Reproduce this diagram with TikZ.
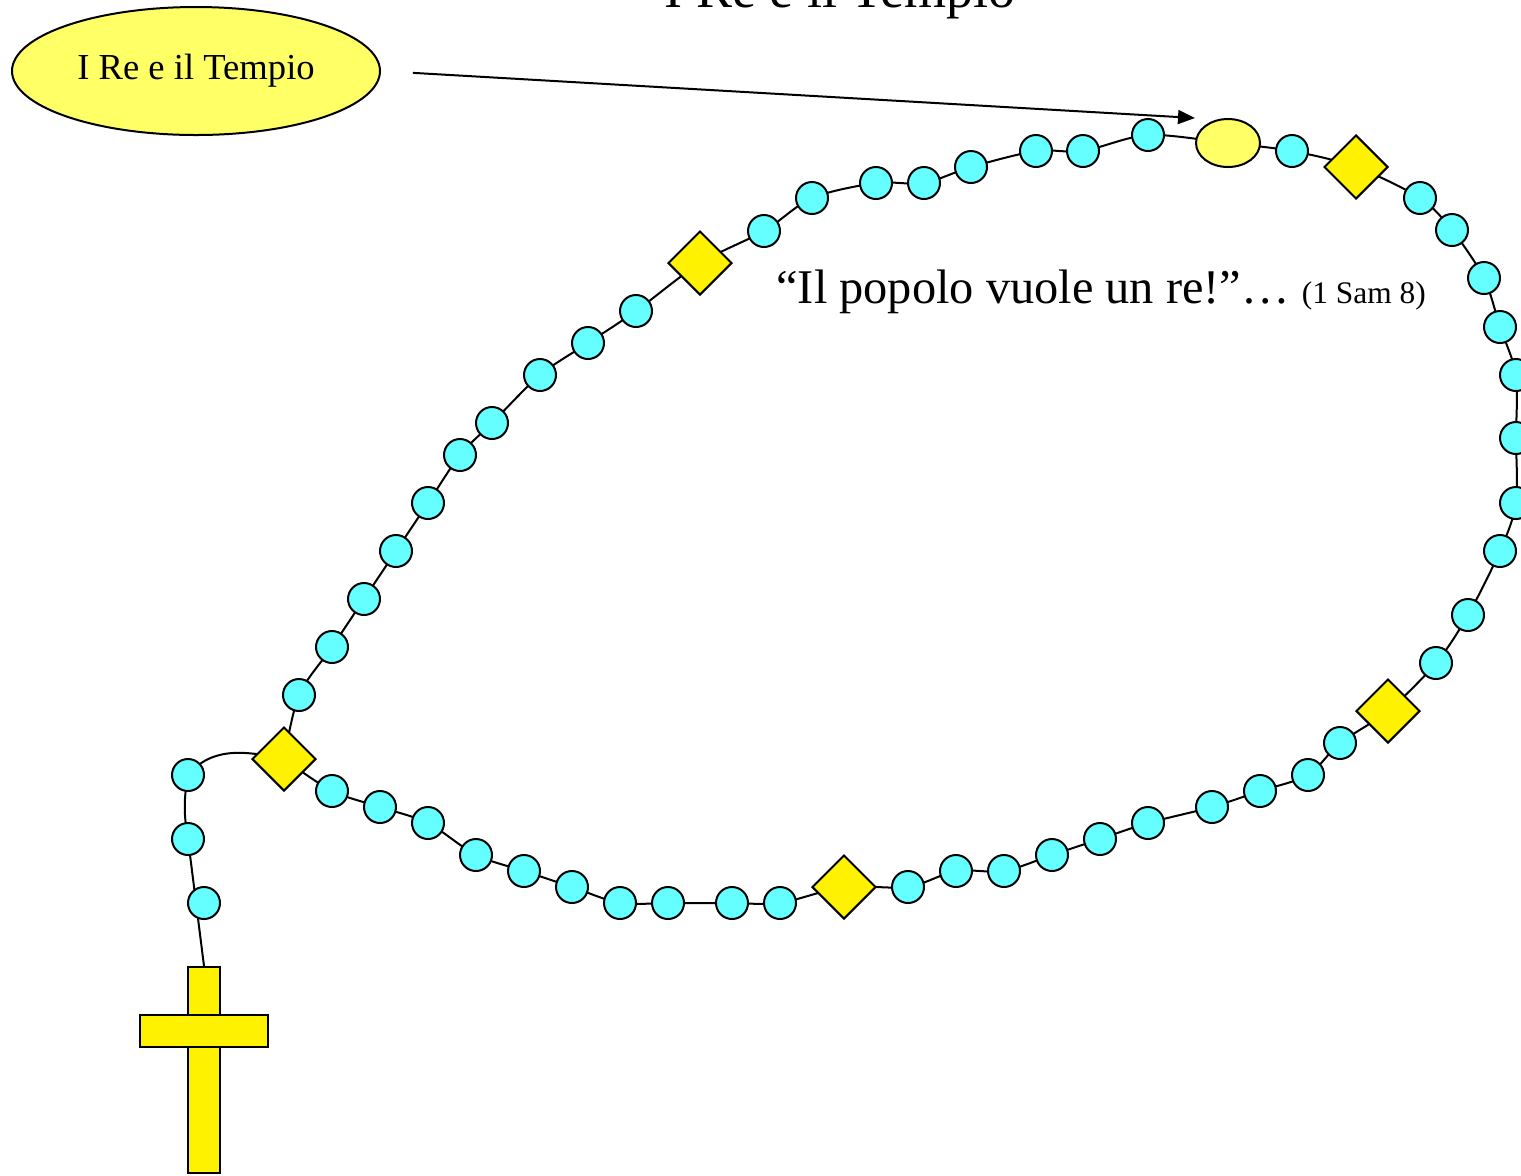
\documentclass[tikz,border=0pt]{standalone}
\usepackage{fontspec}
\setmainfont{Liberation Serif}
\usepackage{tikz}
\usetikzlibrary{shapes.geometric,arrows.meta,backgrounds}
\definecolor{beadcyan}{HTML}{66FFFF}
\definecolor{paleyellow}{HTML}{FFFF66}

\begin{document}
\begin{tikzpicture}[x=0.5pt,y=-0.5pt,
        bead/.style={circle,draw=black,line width=1pt,fill=beadcyan,minimum size=16pt,inner sep=0pt},
        gem/.style={diamond,draw=black,line width=1pt,fill=yellow,minimum size=32pt,inner sep=0pt},
        bigbead/.style={ellipse,draw=black,line width=1pt,fill=paleyellow,minimum width=32pt,minimum height=24pt,inner sep=0pt},
        bar/.style={rectangle,draw=black,line width=1pt,fill=yellow,inner sep=0pt},
        chain/.style={black,line width=1pt},
        pointer/.style={black,line width=1pt,-{Triangle[length=8.5pt,width=7pt]}}]
        \useasboundingbox (0,0) rectangle (1521,1175);
        % titolo e testi
        \node[anchor=base] (title) at (840,7) {\fontsize{27}{32}\selectfont I Re e il Tempio};
        \node[ellipse,draw=black,line width=1pt,fill=paleyellow,minimum width=184pt,minimum height=64pt,inner sep=0pt] (label) at (196,71) {\fontsize{18.3}{22}\selectfont I Re e il Tempio};
        \node[anchor=base west,inner sep=0pt] (quote) at (776,303) {\fontsize{24.2}{29}\selectfont “Il popolo vuole un re!”… {\fontsize{15.7}{19}\selectfont (1 Sam 8)}};
        \coordinate (tip) at (1195,118);
        \draw[pointer,shorten <=16pt] (label.east) -- (tip);
        % croce
        \node[bar,minimum width=16pt,minimum height=103pt] (crossv) at (204,1070) {};
        \node[bar,minimum width=64pt,minimum height=16pt] (crossh) at (204,1031) {};
        % corona
        \node[gem] (d1) at (284,759) {};
        \node[bead] (b1) at (299,695) {};
        \node[bead] (b2) at (332,647) {};
        \node[bead] (b3) at (364,599) {};
        \node[bead] (b4) at (396,551) {};
        \node[bead] (b5) at (428,503) {};
        \node[bead] (b6) at (460,455) {};
        \node[bead] (b7) at (492,423) {};
        \node[bead] (b8) at (540,375) {};
        \node[bead] (b9) at (588,343) {};
        \node[bead] (b10) at (636,311) {};
        \node[gem] (d2) at (700,263) {};
        \node[bead] (b11) at (764,231) {};
        \node[bead] (b12) at (812,198) {};
        \node[bead] (b13) at (876,183) {};
        \node[bead] (b14) at (924,183) {};
        \node[bead] (b15) at (971,167) {};
        \node[bead] (b16) at (1036,151) {};
        \node[bead] (b17) at (1083,151) {};
        \node[bead] (b18) at (1148,135) {};
        \node[bigbead] (big) at (1228,143) {};
        \node[bead] (b19) at (1292,151) {};
        \node[gem] (d3) at (1356,167) {};
        \node[bead] (b20) at (1420,198) {};
        \node[bead] (b21) at (1452,230) {};
        \node[bead] (b22) at (1484,278) {};
        \node[bead] (b23) at (1500,327) {};
        \node[bead] (b24) at (1516,375) {};
        \node[bead] (b25) at (1516,438) {};
        \node[bead] (b26) at (1516,503) {};
        \node[bead] (b27) at (1500,551) {};
        \node[bead] (b28) at (1468,615) {};
        \node[bead] (b29) at (1436,663) {};
        \node[gem] (d4) at (1388,711) {};
        \node[bead] (b30) at (1340,743) {};
        \node[bead] (b31) at (1308,775) {};
        \node[bead] (b32) at (1260,791) {};
        \node[bead] (b33) at (1212,807) {};
        \node[bead] (b34) at (1148,823) {};
        \node[bead] (b35) at (1100,839) {};
        \node[bead] (b36) at (1052,855) {};
        \node[bead] (b37) at (1004,871) {};
        \node[bead] (b38) at (956,871) {};
        \node[bead] (b39) at (908,887) {};
        \node[gem] (d5) at (844,887) {};
        \node[bead] (b40) at (780,903) {};
        \node[bead] (b41) at (732,903) {};
        \node[bead] (b42) at (668,903) {};
        \node[bead] (b43) at (620,903) {};
        \node[bead] (b44) at (572,887) {};
        \node[bead] (b45) at (524,871) {};
        \node[bead] (b46) at (476,855) {};
        \node[bead] (b47) at (428,823) {};
        \node[bead] (b48) at (380,807) {};
        \node[bead] (b49) at (332,791) {};
        \node[bead] (t1) at (188,775) {};
        \node[bead] (t2) at (188,839) {};
        \node[bead] (t3) at (204,903) {};
        % filo
        \begin{scope}[on background layer]
        \draw[chain] plot[smooth] coordinates {(d1.center) (b1.center) (b2.center) (b3.center) (b4.center) (b5.center) (b6.center) (b7.center) (b8.center) (b9.center) (b10.center)
                (d2.center) (b11.center) (b12.center) (b13.center) (b14.center) (b15.center) (b16.center) (b17.center) (b18.center) (big.center) (b19.center)
                (d3.center) (b20.center) (b21.center) (b22.center) (b23.center) (b24.center) (b25.center) (b26.center) (b27.center) (b28.center) (b29.center)
                (d4.center) (b30.center) (b31.center) (b32.center) (b33.center) (b34.center) (b35.center) (b36.center) (b37.center) (b38.center) (b39.center)
                (d5.center) (b40.center) (b41.center) (b42.center) (b43.center) (b44.center) (b45.center) (b46.center) (b47.center) (b48.center) (b49.center) (d1.center)};
        \draw[chain] (d1.center) to[out=168,in=50] (t1.center) to[bend right=10] (t2.center);
        \draw[chain] (t2.center) -- (crossv.north);
        \end{scope}
    \end{tikzpicture}
\end{document}
